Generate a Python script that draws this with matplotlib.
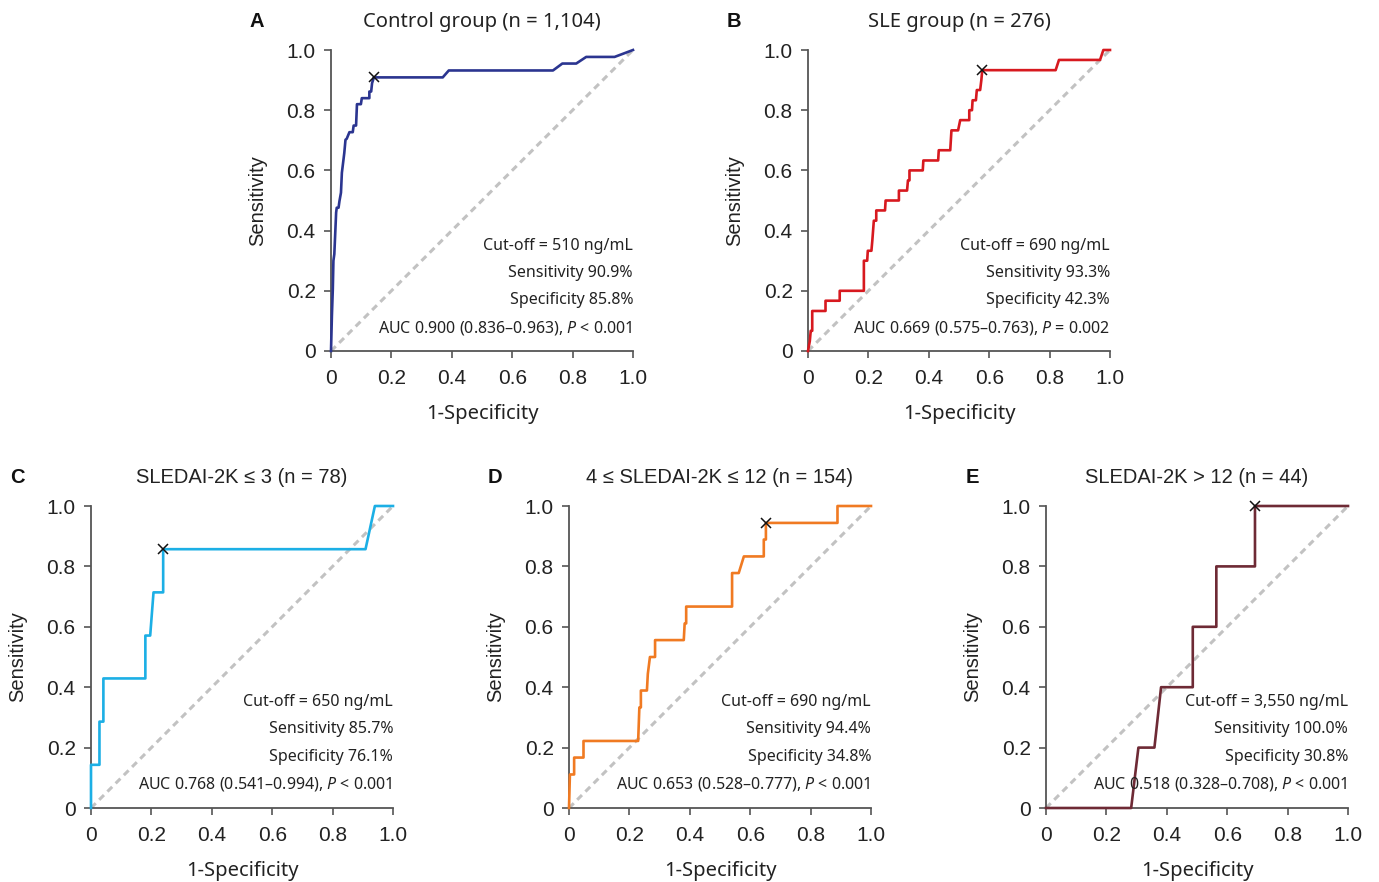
import matplotlib
matplotlib.use('Agg')
import matplotlib.pyplot as plt

plt.rcParams['font.family'] = ['Liberation Sans', 'DejaVu Sans']
plt.rcParams['mathtext.fontset'] = 'custom'
plt.rcParams['mathtext.rm'] = 'Noto Sans'
plt.rcParams['mathtext.it'] = 'Noto Sans:italic'

# ROC curves (1-specificity, sensitivity)
ctrl_fpr = [0, 0.003, 0.006, 0.008, 0.011, 0.017, 0.019, 0.025, 0.028, 0.033,
            0.036, 0.044, 0.048, 0.052, 0.061, 0.072, 0.075, 0.083, 0.086, 0.099,
            0.102, 0.127, 0.127, 0.133, 0.136, 0.142, 0.370, 0.390, 0.735, 0.766,
            0.812, 0.845, 0.939, 1.0]
ctrl_tpr = [0, 0.118, 0.206, 0.300, 0.322, 0.460, 0.476, 0.476, 0.498, 0.526,
            0.592, 0.658, 0.702, 0.705, 0.727, 0.727, 0.749, 0.749, 0.820, 0.820,
            0.840, 0.840, 0.862, 0.862, 0.890, 0.909, 0.909, 0.932, 0.932, 0.955,
            0.955, 0.977, 0.977, 1.0]

sle_fpr = [0, 0.006, 0.009, 0.014, 0.014, 0.058, 0.058, 0.105, 0.105, 0.185,
           0.185, 0.196, 0.198, 0.210, 0.213, 0.218, 0.226, 0.226, 0.255, 0.257,
           0.301, 0.301, 0.328, 0.331, 0.336, 0.336, 0.380, 0.382, 0.431, 0.433,
           0.471, 0.475, 0.497, 0.504, 0.534, 0.534, 0.543, 0.545, 0.556, 0.559,
           0.570, 0.574, 0.577, 0.820, 0.831, 0.967, 0.978, 1.0]
sle_tpr = [0, 0.033, 0.067, 0.067, 0.133, 0.133, 0.167, 0.167, 0.200, 0.200,
           0.300, 0.300, 0.333, 0.333, 0.367, 0.433, 0.433, 0.467, 0.467, 0.500,
           0.500, 0.533, 0.533, 0.567, 0.567, 0.600, 0.600, 0.633, 0.633, 0.667,
           0.667, 0.733, 0.733, 0.767, 0.767, 0.800, 0.800, 0.833, 0.833, 0.867,
           0.867, 0.900, 0.933, 0.933, 0.967, 0.967, 1.0, 1.0]

low_fpr = [0, 0, 0.028, 0.028, 0.041, 0.041, 0.180, 0.180, 0.196, 0.207,
           0.239, 0.239, 0.909, 0.940, 1.0]
low_tpr = [0, 0.143, 0.143, 0.286, 0.286, 0.429, 0.429, 0.571, 0.571, 0.714,
           0.714, 0.857, 0.857, 1.0, 1.0]

mid_fpr = [0, 0.003, 0.017, 0.017, 0.048, 0.048, 0.229, 0.233, 0.238, 0.238,
           0.258, 0.261, 0.268, 0.285, 0.285, 0.380, 0.383, 0.388, 0.388, 0.540,
           0.540, 0.562, 0.579, 0.645, 0.645, 0.652, 0.652, 0.889, 0.889, 1.0]
mid_tpr = [0, 0.111, 0.111, 0.167, 0.167, 0.222, 0.222, 0.333, 0.333, 0.389,
           0.389, 0.444, 0.500, 0.500, 0.556, 0.556, 0.611, 0.611, 0.667, 0.667,
           0.778, 0.778, 0.833, 0.833, 0.889, 0.889, 0.944, 0.944, 1.0, 1.0]

high_fpr = [0, 0.282, 0.306, 0.359, 0.381, 0.486, 0.486, 0.564, 0.564, 0.692, 0.692, 1.0]
high_tpr = [0, 0, 0.2, 0.2, 0.4, 0.4, 0.6, 0.6, 0.8, 0.8, 1.0, 1.0]

# cut-off points (x markers)
cut_fpr = [0.142, 0.577, 0.239, 0.652, 0.692]
cut_tpr = [0.909, 0.933, 0.857, 0.944, 1.0]

letters = ['A', 'B', 'C', 'D', 'E']
titles = ['Control group (n = 1,104)', 'SLE group (n = 276)',
          'SLEDAI-2K \u2264 3 (n = 78)', '4 \u2264 SLEDAI-2K \u2264 12 (n = 154)',
          'SLEDAI-2K > 12 (n = 44)']
cutoffs = ['510', '690', '650', '690', '3,550']
sens = ['90.9', '93.3', '85.7', '94.4', '100.0']
spec = ['85.8', '42.3', '76.1', '34.8', '30.8']
auc = ['0.900 (0.836\u20130.963)', '0.669 (0.575\u20130.763)', '0.768 (0.541\u20130.994)',
       '0.653 (0.528\u20130.777)', '0.518 (0.328\u20130.708)']
pvals = ['< 0.001', '= 0.002', '< 0.001', '< 0.001', '< 0.001']
colors = ['#2b3590', '#d7191f', '#1cafe5', '#f07a22', '#6e2a35']

curves = [(ctrl_fpr, ctrl_tpr), (sle_fpr, sle_tpr), (low_fpr, low_tpr),
          (mid_fpr, mid_tpr), (high_fpr, high_tpr)]

W, H = 1379, 882
fig = plt.figure(figsize=(W / 100, H / 100), dpi=100)
# axes boxes in pixels: left, top, right, bottom
boxes = [(331, 50, 633, 351), (808, 50, 1110, 351),
         (91, 506, 393, 808), (569, 506, 871, 808), (1046, 506, 1348, 808)]

txt_font = ['Noto Sans', 'DejaVu Sans']
spine_col = '#555555'

for i, (l, t, r, b) in enumerate(boxes):
    ax = fig.add_axes([l / W, 1 - b / H, (r - l) / W, (b - t) / H])
    fpr, tpr = curves[i]
    ax.plot([0, 1], [0, 1], color='#c2c2c2', lw=2.2, ls=(0, (2.2, 1.6)), zorder=1)
    ax.plot(fpr, tpr, color=colors[i], lw=1.9, zorder=3, clip_on=False)
    ax.plot(cut_fpr[i], cut_tpr[i], marker='x', color='#111111', ms=7, mew=1.1,
            zorder=4, clip_on=False)

    ax.set_xlim(0, 1)
    ax.set_ylim(0, 1)
    ticks = [0, 0.2, 0.4, 0.6, 0.8, 1.0]
    labels = ['0', '0.2', '0.4', '0.6', '0.8', '1.0']
    ax.set_xticks(ticks)
    ax.set_xticklabels(labels)
    ax.set_yticks(ticks)
    ax.set_yticklabels(labels)
    for s in ['top', 'right']:
        ax.spines[s].set_visible(False)
    for s in ['left', 'bottom']:
        ax.spines[s].set_color(spine_col)
        ax.spines[s].set_linewidth(1.3)
    ax.tick_params(direction='out', length=5, width=1.2, color=spine_col,
                   labelsize=15, labelcolor='#222222', pad=6)
    ax.tick_params(axis='x', pad=8)

    ax.set_xlabel('1-Specificity', fontsize=14.5, family=txt_font, color='#222222')
    ax.xaxis.set_label_coords(0.5, -0.175)
    ax.set_ylabel('Sensitivity', fontsize=14.5, color='#222222')
    ax.yaxis.set_label_coords(-0.21, 0.5)

    ax.text(0.5, 1.093, titles[i], transform=ax.transAxes, ha='center', va='center',
            fontsize=14.5, color='#222222',
            family=txt_font if i < 2 else ['Liberation Sans', 'DejaVu Sans'])
    ax.text(-0.245, 1.095, letters[i], transform=ax.transAxes, ha='center', va='center',
            fontsize=14.5, fontweight='bold', color='#111111')

    lines = ['Cut-off = %s ng/mL' % cutoffs[i],
             'Sensitivity %s%%' % sens[i],
             'Specificity %s%%' % spec[i],
             'AUC %s, $\\mathit{P}$ %s' % (auc[i], pvals[i])]
    ys = [0.350, 0.260, 0.168, 0.078]
    for line, y in zip(lines, ys):
        ax.text(1.0, y, line, transform=ax.transAxes, ha='right', va='center',
                fontsize=11.5, family=txt_font, color='#222222', zorder=5)

fig.savefig('out.png', dpi=100)
